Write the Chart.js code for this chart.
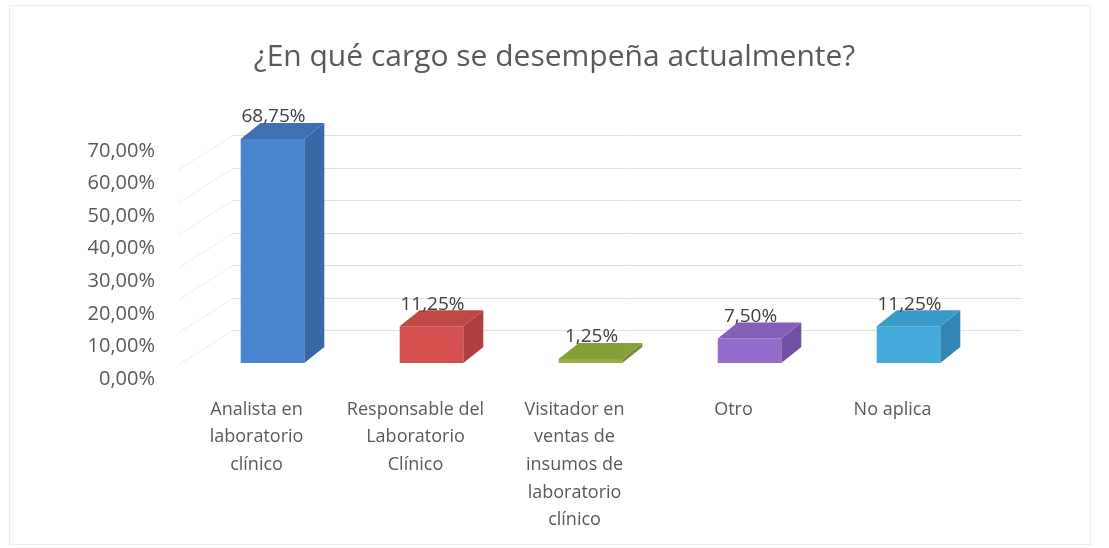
<!DOCTYPE html>
<html lang="es">
<head>
<meta charset="utf-8">
<title>Cargo actual</title>
<script src="https://cdn.jsdelivr.net/npm/chart.js@4.4.1/dist/chart.umd.min.js"></script>
<style>
  html, body { margin: 0; padding: 0; background: #fff; }
  #wrap { position: relative; width: 1109px; height: 548px; }
  #frame { position: absolute; left: 9px; top: 5px; right: 18px; bottom: 3px; border: 1px solid #ececec; pointer-events: none; }
</style>
</head>
<body>
<div id="wrap">
  <canvas id="cargoChart" width="1109" height="548"></canvas>
  <div id="frame"></div>
</div>
<script>
const categories = [
  ["Analista en", "laboratorio", "clínico"],
  ["Responsable del", "Laboratorio", "Clínico"],
  ["Visitador en", "ventas de", "insumos de", "laboratorio", "clínico"],
  ["Otro"],
  ["No aplica"]
];
const percentages = [68.75, 11.25, 1.25, 7.5, 11.25];
const yTicks = [0, 10, 20, 30, 40, 50, 60, 70];

// front, side and top face colours per bar
const frontColors = ["#4a85cf", "#d4504e", "#94b040", "#946ccc", "#44aadb"];
const sideColors  = ["#3a67a6", "#ad3f3d", "#768d30", "#7250a6", "#3286b3"];
const topColors   = ["#3f70b4", "#bf4744", "#85a038", "#8260b8", "#3a9ac8"];

const DEPTH_X = 20;
const DEPTH_Y = 16;

const fmtPct = v => v.toFixed(2).replace(".", ",") + "%";

// back wall grid + slanted left wall lines
const wallPlugin = {
  id: "wall",
  beforeDatasetsDraw(chart) {
    const { ctx, chartArea, scales: { y } } = chart;
    ctx.save();
    ctx.lineWidth = 1;
    yTicks.forEach(t => {
      if (t === 0) return;
      const py = Math.round(y.getPixelForValue(t)) + 0.5;
      ctx.strokeStyle = "#e0e0e0";
      ctx.beginPath();
      ctx.moveTo(chartArea.left + 40, py);
      ctx.lineTo(chartArea.right + 34, py);
      ctx.stroke();
      ctx.strokeStyle = "#ededed";
      ctx.beginPath();
      ctx.moveTo(chartArea.left + 40, py);
      ctx.lineTo(chartArea.left - 14, py + 34);
      ctx.stroke();
    });
    ctx.restore();
  }
};

// side/top faces and value labels
const boxPlugin = {
  id: "box3d",
  afterDatasetsDraw(chart) {
    const { ctx } = chart;
    const meta = chart.getDatasetMeta(0);
    ctx.save();
    meta.data.forEach((bar, i) => {
      const { x, y, base, width } = bar.getProps(["x", "y", "base", "width"], true);
      const l = x - width / 2, r = x + width / 2;
      ctx.fillStyle = sideColors[i];
      ctx.beginPath();
      ctx.moveTo(r, y);
      ctx.lineTo(r + DEPTH_X, y - DEPTH_Y);
      ctx.lineTo(r + DEPTH_X, base - DEPTH_Y);
      ctx.lineTo(r, base);
      ctx.closePath();
      ctx.fill();
      ctx.fillStyle = topColors[i];
      ctx.beginPath();
      ctx.moveTo(l, y);
      ctx.lineTo(l + DEPTH_X, y - DEPTH_Y);
      ctx.lineTo(r + DEPTH_X, y - DEPTH_Y);
      ctx.lineTo(r, y);
      ctx.closePath();
      ctx.fill();

      ctx.fillStyle = "#404040";
      ctx.font = "19px 'Open Sans'";
      ctx.textAlign = "center";
      ctx.textBaseline = "middle";
      ctx.fillText(fmtPct(percentages[i]), x + 1, y - 22);
    });
    ctx.restore();
  }
};

new Chart(document.getElementById("cargoChart"), {
  type: "bar",
  data: {
    labels: categories,
    datasets: [{
      data: percentages,
      backgroundColor: frontColors,
      borderWidth: 0,
      categoryPercentage: 0.8,
      barPercentage: 0.5
    }]
  },
  options: {
    responsive: false,
    animation: false,
    layout: { padding: { left: 0, right: 0, top: 0, bottom: 8 } },
    plugins: {
      legend: { display: false },
      tooltip: { enabled: false },
      title: {
        display: true,
        text: "¿En qué cargo se desempeña actualmente?",
        color: "#595959",
        font: { family: "'Open Sans'", size: 30, weight: "normal" },
        padding: { top: 39, bottom: 60 }
      }
    },
    scales: {
      y: {
        min: 0,
        max: 70,
        afterFit(scale) { scale.width = 193; },
        afterBuildTicks(scale) { scale.ticks = yTicks.map(v => ({ value: v })); },
        grid: { display: false, drawTicks: false },
        border: { display: false },
        ticks: {
          color: "#595959",
          font: { family: "'Open Sans'", size: 20 },
          padding: 38,
          labelOffset: 16,
          callback: v => fmtPct(v)
        }
      },
      // empty right-hand gutter
      yRight: {
        position: "right",
        afterFit(scale) { scale.width = 121; },
        grid: { display: false, drawTicks: false },
        border: { display: false },
        ticks: { display: false }
      },
      x: {
        afterFit(scale) { scale.height = 177; },
        grid: { display: false, drawTicks: false },
        border: { display: false },
        ticks: {
          color: "#595959",
          font: { family: "'Open Sans'", size: 18, lineHeight: 1.53 },
          padding: 33,
          labelOffset: -16,
          maxRotation: 0,
          autoSkip: false
        }
      }
    }
  },
  plugins: [wallPlugin, boxPlugin]
});
</script>
</body>
</html>
